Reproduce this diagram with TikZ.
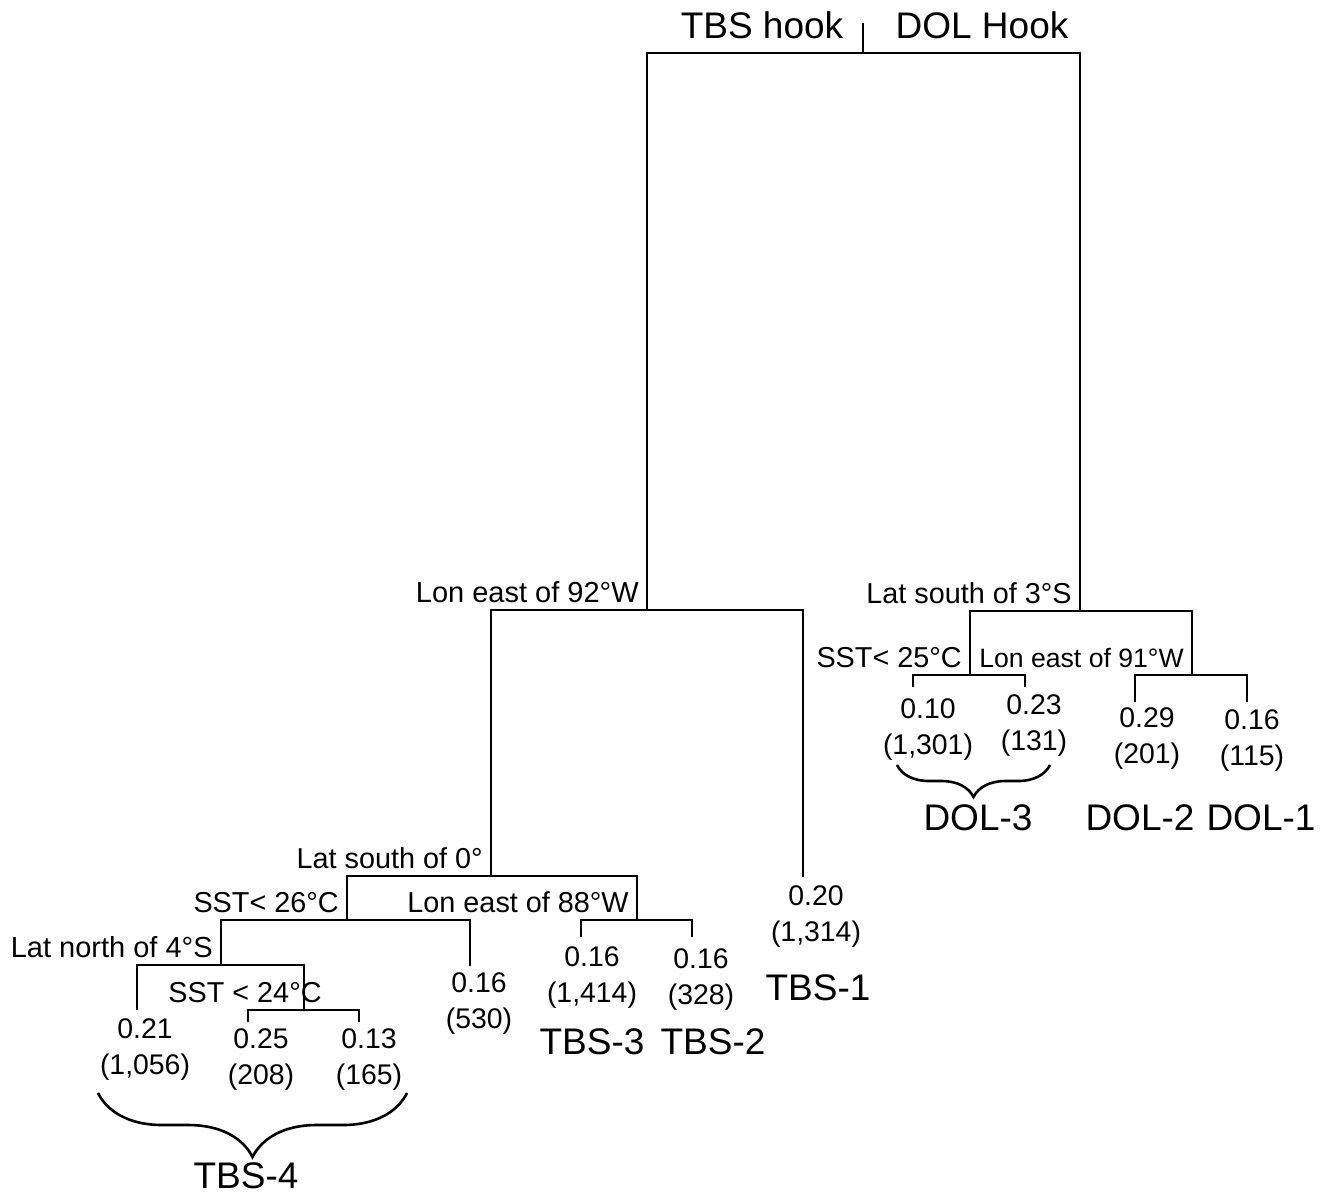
\documentclass[tikz,border=0pt]{standalone}
\usepackage{fontspec}
\setmainfont{Liberation Sans}
\usetikzlibrary{decorations.pathreplacing}
\begin{document}
\begin{tikzpicture}[x=0.5pt, y=-0.5pt, line width=1.3pt,
  every node/.style={inner sep=0pt},
  cond/.style={anchor=base east, xshift=-3.5pt, yshift=4pt, font=\fontsize{#1}{17}\selectfont},
  leaf/.style={align=center, font=\fontsize{14.2}{18}\selectfont},
  grp/.style={font=\fontsize{18.5}{22}\selectfont},
  curly/.style={decorate, decoration={brace, mirror, amplitude=#1}}]

\useasboundingbox (0,0) rectangle (1322,1196);

\foreach \n/\x/\y in {root/863/53, lon92/647/610, lat3/1080/611, lat0/491/876, sst25/970/675,
    lon91/1192/675, sst26/347/920, lon88/637/920, lat4/221/965, sst24/304/1010}
  \coordinate (split-\n) at (\x,\y);

\foreach \n/\x/\y in {d3a/913/687, d3b/1025/687, d2/1135/702, d1/1247/702, t1/803/877,
    t530/470/966, t3/581/937, t2/692/937, t4a/137/1010, t4b/248/1022, t4c/359/1022}
  \coordinate (end-\n) at (\x,\y);

\coordinate (stem) at (863,23);
\draw (split-root) -- (stem);
\draw (split-lon92) |- (split-root) -| (split-lat3);
\draw (split-lat0) |- (split-lon92) -| (end-t1);
\draw (split-sst26) |- (split-lat0) -| (split-lon88);
\draw (split-lat4) |- (split-sst26) -| (end-t530);
\draw (end-t4a) |- (split-lat4) -| (split-sst24);
\draw (end-t4b) |- (split-sst24) -| (end-t4c);
\draw (end-t3) |- (split-lon88) -| (end-t2);
\draw (split-sst25) |- (split-lat3) -| (split-lon91);
\draw (end-d3a) |- (split-sst25) -| (end-d3b);
\draw (end-d2) |- (split-lon91) -| (end-d1);

\node [grp] (hook-tbs) at (762,25) {TBS hook};
\node [grp] (hook-dol) at (982,25) {DOL Hook};

\foreach \n/\s/\t in {lon92/14.5/Lon east of 92°W, lat3/14.4/Lat south of 3°S, lat0/14.4/Lat south of 0°,
    sst25/14.4/SST< 25°C, lon91/13.3/Lon east of 91°W, sst26/14.4/SST< 26°C, lon88/14.4/Lon east of 88°W,
    lat4/14.5/Lat north of 4°S}
  \node [cond=\s] (label-\n) at (split-\n) {\t};
\node [font=\fontsize{14.4}{17}\selectfont] (label-sst24) at (245,993) {SST < 24°C};

\foreach \n/\x/\y/\v/\c in {d3a/928/730/0.10/1{,}301, d3b/1034/726/0.23/131, d2/1147/739/0.29/201,
    d1/1252/741/0.16/115, t1/816/917/0.20/1{,}314, t3/592/978/0.16/1{,}414, t2/701/980/0.16/328,
    t530/479/1004/0.16/530, t4a/145/1050/0.21/1{,}056, t4b/261/1060/0.25/208, t4c/369/1060/0.13/165}
  \node [leaf] (leaf-\n) at (\x,\y) {\v\\(\c)};

\foreach \n/\x/\y in {DOL-3/978/818, DOL-2/1140/818, DOL-1/1261/818, TBS-1/818/988,
    TBS-3/592/1042, TBS-2/713/1042, TBS-4/246/1176}
  \node [grp] (grp-\n) at (\x,\y) {\n};

\coordinate (dol3-l) at (897,765);
\coordinate (dol3-r) at (1050,765);
\coordinate (tbs4-l) at (98,1093);
\coordinate (tbs4-r) at (407,1093);
\draw [curly=16pt] (dol3-l) -- (dol3-r);
\draw [curly=32pt] (tbs4-l) -- (tbs4-r);

\end{tikzpicture}
\end{document}
